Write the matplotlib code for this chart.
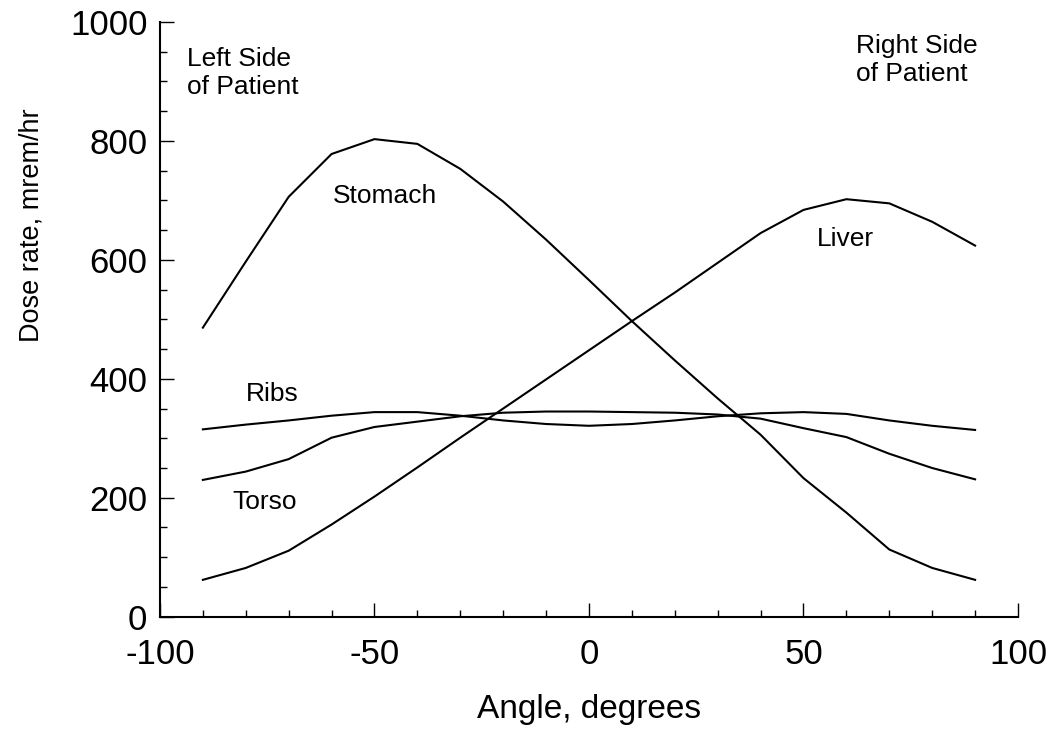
import matplotlib
matplotlib.use("Agg")
import matplotlib.pyplot as plt
from matplotlib.ticker import MultipleLocator

plt.rcParams["font.family"] = ["Liberation Sans", "DejaVu Sans"]
plt.rcParams["axes.unicode_minus"] = False

# Dose rate (mrem/hr) every 10 degrees
angles = [-90, -80, -70, -60, -50, -40, -30, -20, -10, 0,
          10, 20, 30, 40, 50, 60, 70, 80, 90]
stomach = [486, 597, 706, 778, 803, 795, 753, 698, 634, 566,
           497, 431, 367, 306, 233, 175, 113, 82, 62]
liver = [62, 82, 111, 155, 202, 251, 301, 350, 399, 448,
         497, 545, 595, 645, 684, 702, 695, 664, 624]
ribs = [315, 323, 330, 338, 344, 344, 338, 330, 324, 321,
        324, 330, 337, 342, 344, 341, 330, 321, 314]
torso = [230, 244, 265, 301, 319, 328, 337, 343, 345, 345,
         344, 343, 340, 333, 317, 302, 274, 250, 231]


def main():
    fig = plt.figure(figsize=(10.58, 7.32), dpi=100)
    ax = fig.add_axes([0.1512, 0.1575, 0.8110, 0.8125])

    for series in (stomach, liver, ribs, torso):
        ax.plot(angles, series, color="black", lw=1.5)

    # curve labels
    ax.text(-47.6, 696, "Stomach", fontsize=19, ha="center", va="baseline")
    ax.text(59.7, 624, "Liver", fontsize=19, ha="center", va="baseline")
    ax.text(-73.9, 362, "Ribs", fontsize=19, ha="center", va="baseline")
    ax.text(-75.7, 181, "Torso", fontsize=19, ha="center", va="baseline")
    ax.text(-93.7, 958, "Left Side\nof Patient", fontsize=19, ha="left", va="top")
    ax.text(62.2, 980, "Right Side\nof Patient", fontsize=19, ha="left", va="top")

    ax.set_xlim(-100, 100)
    ax.set_ylim(0, 1000)
    ax.xaxis.set_major_locator(MultipleLocator(50))
    ax.xaxis.set_minor_locator(MultipleLocator(10))
    ax.yaxis.set_major_locator(MultipleLocator(200))
    ax.yaxis.set_minor_locator(MultipleLocator(50))

    ax.spines["top"].set_visible(False)
    ax.spines["right"].set_visible(False)
    ax.spines["left"].set_linewidth(1.5)
    ax.spines["bottom"].set_linewidth(1.5)
    ax.tick_params(which="both", direction="in", width=1.0, labelsize=25)
    ax.tick_params(axis="x", which="major", length=10, pad=15)
    ax.tick_params(axis="y", which="major", length=10, pad=9)
    ax.tick_params(which="minor", length=5)

    ax.set_xlabel("Angle, degrees", fontsize=24, labelpad=17)
    ax.set_ylabel("Dose rate, mrem/hr", fontsize=19.5)
    ax.yaxis.set_label_coords(-0.135, 0.659)

    fig.savefig("out.png", dpi=100)


if __name__ == "__main__":
    main()
